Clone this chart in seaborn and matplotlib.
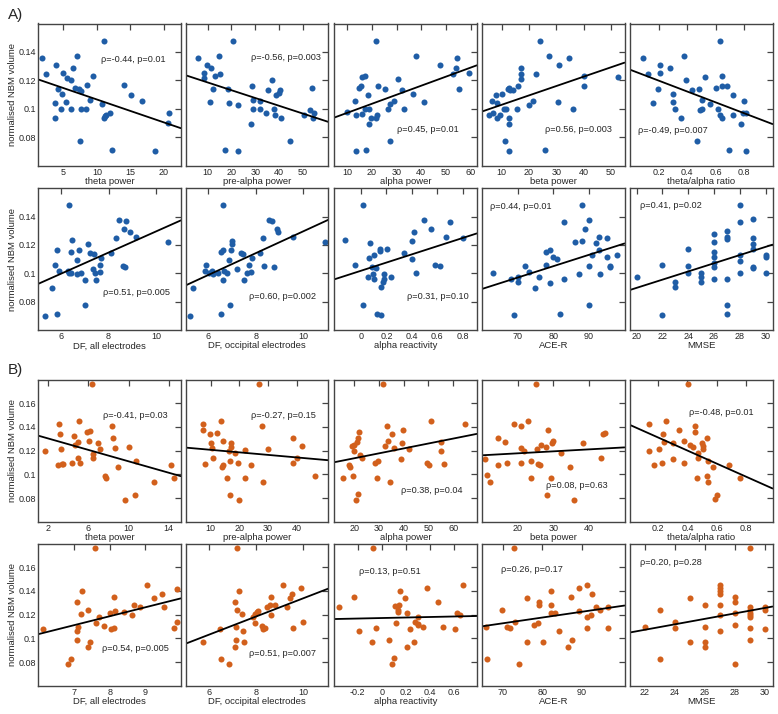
import matplotlib
matplotlib.use("Agg")
import matplotlib.pyplot as plt
import matplotlib.ticker as mticker
import seaborn as sns

# ---- data: (x, normalised NBM volume) per panel ----
# Group A (blue)
a_theta_x = [1.75, 2.35, 3.85, 4.15, 3.75, 3.75, 4.7, 4.85, 4.9, 5.5, 6.4, 6.2, 5.4, 6.1, 7.0, 6.8, 7.3, 7.65, 7.7, 7.5,
             8.4, 8.5, 9.0, 9.5, 10.8, 11.1, 11.0, 11.15, 11.4, 11.9, 12.25, 14.1, 15.15, 16.75, 18.65, 20.65, 20.8]
a_theta_y = [0.136, 0.1248, 0.1311, 0.114, 0.1044, 0.0936, 0.1001, 0.1107, 0.1255, 0.1219, 0.1287, 0.1205, 0.1048,
             0.0999, 0.1374, 0.1147, 0.1137, 0.1128, 0.0997, 0.0772, 0.0997, 0.1166, 0.106, 0.1231, 0.1032, 0.1475,
             0.0936, 0.0947, 0.0959, 0.0973, 0.071, 0.1166, 0.1097, 0.1055, 0.0704, 0.0898, 0.0973]

a_prealpha_x = [6.1, 9.6, 11.4, 8.5, 8.5, 13.1, 15.1, 14.9, 20.5, 12.4, 11.1, 18.7, 18.8, 17.1, 22.7, 22.6, 28.2, 28.8,
                28.9, 28.9, 31.8, 32.1, 34.5, 35.2, 37.1, 37.8, 38.4, 38.9, 39.8, 40.5, 40.8, 44.7, 50.4, 52.9, 53.9,
                54.1, 54.8]
a_prealpha_y = [0.136, 0.1311, 0.1287, 0.1255, 0.1219, 0.1229, 0.1248, 0.1374, 0.1475, 0.1137, 0.1048, 0.1137, 0.1044,
                0.071, 0.0704, 0.1029, 0.0896, 0.1163, 0.1065, 0.0997, 0.0997, 0.1055, 0.0971, 0.113, 0.1205, 0.1001,
                0.0957, 0.1097, 0.1114, 0.1135, 0.0936, 0.0774, 0.0955, 0.0994, 0.1149, 0.0936, 0.0973]

a_alpha_x = [10.0, 13.3, 13.5, 13.7, 14.7, 15.8, 16.0, 17.1, 16.0, 17.1, 17.8, 18.6, 19.1, 19.0, 19.9, 21.8, 22.1, 21.8,
             22.5, 25.4, 26.5, 27.5, 27.5, 28.8, 30.7, 32.4, 33.2, 36.5, 38.0, 40.9, 47.6, 52.9, 54.1, 54.5, 55.4, 59.2]
a_alpha_y = [0.0976, 0.1055, 0.0704, 0.0955, 0.1149, 0.1163, 0.1222, 0.1229, 0.0966, 0.0997, 0.071, 0.1097, 0.1001,
             0.0896, 0.0938, 0.0938, 0.0959, 0.1475, 0.1163, 0.1137, 0.0997, 0.1032, 0.0774, 0.1055, 0.1208, 0.113,
             0.1001, 0.1107, 0.1374, 0.1048, 0.1311, 0.1248, 0.1287, 0.136, 0.1137, 0.1255]

a_beta_x = [5.3, 6.4, 6.9, 7.9, 8.4, 8.4, 9.4, 10.2, 11.0, 11.6, 11.3, 12.2, 12.7, 13.1, 12.8, 12.8, 12.6, 14.3, 15.5,
            15.9, 17.2, 17.2, 17.2, 19.9, 21.6, 22.6, 23.9, 25.7, 27.5, 30.5, 30.9, 34.6, 36.1, 40.0, 40.0, 52.5]
a_beta_y = [0.0957, 0.1053, 0.0973, 0.1095, 0.0938, 0.1044, 0.0955, 0.1105, 0.0997, 0.0997, 0.0776, 0.1137, 0.1149,
            0.113, 0.0938, 0.0896, 0.0704, 0.113, 0.1001, 0.1163, 0.1208, 0.1248, 0.1287, 0.1029, 0.1055, 0.1248,
            0.1475, 0.071, 0.1374, 0.1048, 0.1311, 0.136, 0.0997, 0.1231, 0.1163, 0.1222]

a_ratio_x = [0.091, 0.123, 0.16, 0.195, 0.212, 0.212, 0.282, 0.301, 0.301, 0.316, 0.358, 0.377, 0.395, 0.437, 0.47,
             0.484, 0.49, 0.505, 0.507, 0.528, 0.563, 0.6, 0.616, 0.63, 0.644, 0.63, 0.645, 0.649, 0.679, 0.693,
             0.726, 0.721, 0.777, 0.8, 0.793, 0.816, 0.816]
a_ratio_y = [0.136, 0.1248, 0.1044, 0.1137, 0.1311, 0.1255, 0.1287, 0.1107, 0.1048, 0.1001, 0.0936, 0.1374, 0.1205,
             0.113, 0.0774, 0.1137, 0.0994, 0.0997, 0.106, 0.1222, 0.1032, 0.1149, 0.0997, 0.0959, 0.0938, 0.1475,
             0.1163, 0.1231, 0.1163, 0.071, 0.1095, 0.0955, 0.0896, 0.1055, 0.0973, 0.0973, 0.0704]

a_dfall_x = [5.32, 5.63, 5.75, 5.83, 5.82, 5.93, 6.34, 6.27, 6.34, 6.42, 6.45, 6.42, 6.66, 6.69, 6.77, 6.83, 7.01, 7.01,
             7.13, 7.23, 7.37, 7.34, 7.44, 7.48, 7.62, 7.65, 7.70, 8.11, 8.31, 8.44, 8.66, 8.75, 8.61, 8.69, 8.92,
             9.14, 10.5]
a_dfall_y = [0.0703, 0.0899, 0.1056, 0.1167, 0.0713, 0.1015, 0.1478, 0.1016, 0.10, 0.1153, 0.1235, 0.10, 0.0998,
             0.1097, 0.1167, 0.10, 0.0777, 0.0954, 0.1209, 0.1144, 0.1136, 0.1033, 0.10, 0.0954, 0.1061, 0.1007,
             0.1108, 0.1144, 0.1249, 0.1379, 0.1313, 0.1367, 0.1049, 0.1047, 0.1292, 0.1254, 0.1224]

a_dfocc_x = [5.23, 5.34, 5.89, 5.85, 6.04, 6.14, 6.21, 6.42, 6.52, 6.63, 6.60, 6.52, 6.63, 6.66, 6.81, 6.88, 6.95, 7.01,
             7.01, 6.91, 7.19, 7.36, 7.47, 7.52, 7.64, 7.73, 7.78, 7.85, 8.17, 8.32, 8.33, 8.56, 8.67, 8.76, 8.91,
             8.92, 9.58, 10.93]
a_dfocc_y = [0.0703, 0.0899, 0.1056, 0.1016, 0.1005, 0.1016, 0.0998, 0.10, 0.1153, 0.1478, 0.1167, 0.0713, 0.0954,
             0.1016, 0.10, 0.1097, 0.1167, 0.1231, 0.1207, 0.0777, 0.1033, 0.1144, 0.1136, 0.0954, 0.10, 0.1061,
             0.1007, 0.1108, 0.1144, 0.1249, 0.1049, 0.1379, 0.1367, 0.1047, 0.1313, 0.1292, 0.1254, 0.1224]

a_react_x = [-0.128, -0.05, 0.013, 0.013, 0.055, 0.073, 0.063, 0.086, 0.105, 0.118, 0.094, 0.105, 0.125, 0.146, 0.149,
             0.157, 0.157, 0.173, 0.178, 0.178, 0.204, 0.235, 0.34, 0.397, 0.397, 0.418, 0.431, 0.492, 0.552, 0.578,
             0.622, 0.664, 0.703, 0.805]
a_react_y = [0.1235, 0.1056, 0.1478, 0.0776, 0.0976, 0.1212, 0.1111, 0.1047, 0.1132, 0.1035, 0.0993, 0.0962, 0.0713,
             0.116, 0.1169, 0.0706, 0.0901, 0.0941, 0.0995, 0.0958, 0.1169, 0.0976, 0.1141, 0.1101, 0.1226, 0.1292,
             0.1002, 0.1379, 0.1311, 0.1059, 0.1052, 0.1254, 0.1365, 0.1252]

a_ace_x = [63.1, 68.1, 69.1, 70.1, 70.1, 72.2, 73.2, 75.0, 76.1, 77.9, 78.1, 79.0, 79.0, 80.0, 81.1, 82.0, 83.1, 83.1,
           86.1, 87.2, 88.0, 88.0, 89.0, 90.0, 90.0, 90.0, 91.0, 91.9, 92.9, 92.9, 93.0, 95.0, 95.0, 95.9, 96.0, 98.0]
a_ace_y = [0.10, 0.0958, 0.0706, 0.0976, 0.0939, 0.1054, 0.1007, 0.0899, 0.0976, 0.1059, 0.1153, 0.1165, 0.0936,
           0.1113, 0.1101, 0.0713, 0.0958, 0.1365, 0.1224, 0.0995, 0.1231, 0.1478, 0.1313, 0.1376, 0.1052, 0.0776,
           0.1129, 0.1212, 0.1254, 0.1165, 0.0995, 0.1247, 0.1118, 0.1052, 0.1042, 0.1129]

a_mmse_x = [20, 22, 22, 23, 23, 24, 24, 24, 25, 25, 25, 26, 26, 26, 26, 26, 26, 26, 27, 27, 27, 27, 27, 27,
            28, 28, 28, 28, 28, 29, 29, 29, 29, 29, 29, 30, 30, 30]
a_mmse_y = [0.0976, 0.1059, 0.0706, 0.0941, 0.0901, 0.1169, 0.1054, 0.10, 0.1005, 0.0972, 0.0939,
            0.1279, 0.1224, 0.1153, 0.1113, 0.1071, 0.1047, 0.0958, 0.1297, 0.1259, 0.124, 0.0958, 0.0776, 0.0713,
            0.1478, 0.1365, 0.1129, 0.1087, 0.10, 0.1381, 0.1252, 0.1207, 0.1169, 0.1047, 0.1036,
            0.1129, 0.1115, 0.10]

# Group B (orange)
b_theta_x = [1.67, 3.07, 3.17, 3.0, 3.27, 3.33, 3.43, 4.33, 4.57, 4.67, 5.0, 5.1, 5.0, 5.17, 5.9, 6.17, 6.1, 6.33, 6.5,
             6.43, 6.9, 7.1, 7.6, 7.77, 8.33, 8.43, 8.67, 8.93, 9.67, 10.07, 10.67, 10.77, 12.5, 14.23, 14.5]
b_theta_y = [0.1197, 0.1428, 0.1341, 0.1082, 0.1214, 0.1084, 0.1087, 0.1096, 0.1321, 0.1251, 0.1273, 0.1448, 0.1138,
             0.1096, 0.1358, 0.1369, 0.1285, 0.1766, 0.1175, 0.1138, 0.1262, 0.1211, 0.0989, 0.0969, 0.1406, 0.1307,
             0.1223, 0.1062, 0.0786, 0.1234, 0.0828, 0.111, 0.0932, 0.1082, 0.0969]

b_prealpha_x = [7.2, 7.44, 8.0, 9.77, 10.0, 10.58, 10.93, 12.1, 13.72, 14.19, 13.84, 14.42, 15.58, 16.5, 16.98, 17.1,
                16.74, 16.74, 18.5, 19.42, 19.77, 21.98, 21.98, 24.07, 26.74, 28.02, 28.37, 29.88, 38.84, 38.84,
                40.0, 41.74, 46.4]
b_prealpha_y = [0.1428, 0.1375, 0.1087, 0.1341, 0.1265, 0.1223, 0.1138, 0.1349, 0.1448, 0.1279, 0.1062, 0.1082, 0.0969,
                0.1194, 0.1265, 0.1228, 0.111, 0.0828, 0.1177, 0.1096, 0.0786, 0.1208, 0.0969, 0.1082, 0.1766, 0.1406,
                0.0932, 0.1211, 0.1307, 0.1096, 0.1138, 0.1242, 0.0989]

b_alpha_x = [15.5, 18.0, 18.3, 18.9, 19.3, 19.9, 20.0, 21.0, 21.4, 21.8, 22.3, 21.6, 20.6, 23.0, 28.4, 29.1, 29.7,
             31.7, 32.4, 33.1, 33.8, 34.5, 35.4, 36.1, 38.9, 39.4, 39.6, 42.1, 49.3, 50.4, 51.1, 55.1, 55.1, 56.3, 64.9]
b_alpha_y = [0.0969, 0.1082, 0.1062, 0.1237, 0.0983, 0.1251, 0.1194, 0.1273, 0.1307, 0.1358, 0.1166, 0.0834, 0.0786,
             0.1138, 0.1096, 0.0969, 0.111, 0.1766, 0.1237, 0.1406, 0.1285, 0.0932, 0.1341, 0.1223, 0.1132, 0.1265,
             0.1375, 0.1214, 0.1096, 0.1082, 0.1448, 0.1273, 0.1194, 0.1087, 0.1428]

b_beta_x = [10.9, 11.5, 12.1, 14.4, 14.6, 16.4, 17.1, 19.0, 20.8, 20.8, 20.9, 21.8, 23.0, 23.6, 23.6, 25.1, 25.3, 25.6,
            26.1, 26.5, 27.9, 28.4, 28.1, 29.3, 29.7, 30.0, 32.1, 34.7, 35.8, 38.4, 43.4, 43.8, 44.3]
b_beta_y = [0.1132, 0.0992, 0.0932, 0.1307, 0.1082, 0.1273, 0.1096, 0.1428, 0.1406, 0.1096, 0.1223, 0.1194, 0.1448,
            0.111, 0.0969, 0.1766, 0.1214, 0.1087, 0.1082, 0.1245, 0.1234, 0.1375, 0.0828, 0.0969, 0.1265, 0.1279,
            0.118, 0.1062, 0.0786, 0.1265, 0.1138, 0.1341, 0.1349]

b_ratio_x = [0.138, 0.138, 0.170, 0.207, 0.227, 0.234, 0.239, 0.250, 0.298, 0.298, 0.344, 0.376, 0.376, 0.401, 0.418,
             0.440, 0.452, 0.452, 0.468, 0.475, 0.475, 0.502, 0.509, 0.505, 0.537, 0.539, 0.537, 0.543, 0.578, 0.589,
             0.601, 0.685, 0.761]
b_ratio_y = [0.1428, 0.1194, 0.1082, 0.1214, 0.1096, 0.1341, 0.1273, 0.1448, 0.1265, 0.1132, 0.1375, 0.1282, 0.1096,
             0.1766, 0.1245, 0.1228, 0.1358, 0.1406, 0.0969, 0.118, 0.1138, 0.1265, 0.1237, 0.1214, 0.1307, 0.111,
             0.0989, 0.0932, 0.1062, 0.0794, 0.0828, 0.1082, 0.0969]

b_dfall_x = [6.14, 6.84, 6.92, 7.08, 7.12, 7.09, 7.09, 7.19, 7.23, 7.40, 7.38, 7.45, 7.59, 7.62, 7.71, 7.85, 8.0, 8.04,
             8.13, 8.11, 8.15, 8.39, 8.67, 8.61, 8.86, 9.05, 9.23, 9.45, 9.52, 9.80, 9.89, 9.89]
b_dfall_y = [0.1079, 0.0783, 0.0828, 0.1307, 0.1099, 0.1059, 0.0986, 0.1208, 0.14, 0.1242, 0.093, 0.0969, 0.1763,
             0.113, 0.1183, 0.1107, 0.1214, 0.1082, 0.109, 0.1352, 0.1234, 0.1222, 0.1279, 0.1194, 0.1265, 0.1448,
             0.1341, 0.1372, 0.1265, 0.1084, 0.1138, 0.142]

b_dfocc_x = [5.77, 6.48, 6.52, 6.87, 7.11, 7.14, 7.14, 7.11, 7.18, 7.21, 7.28, 7.42, 7.44, 7.49, 7.89, 7.96, 7.96, 8.03,
             8.10, 8.24, 8.31, 8.38, 8.45, 8.59, 8.63, 8.66, 8.82, 9.15, 9.32, 9.44, 9.54, 9.58, 9.93, 10.0]
b_dfocc_y = [0.0969, 0.1076, 0.0828, 0.0783, 0.1307, 0.1099, 0.0986, 0.093, 0.1763, 0.1242, 0.14, 0.1208, 0.1065,
             0.0969, 0.1183, 0.113, 0.1208, 0.1222, 0.1234, 0.1107, 0.1082, 0.109, 0.1265, 0.1279, 0.1194, 0.1352,
             0.1279, 0.1448, 0.1265, 0.1341, 0.1372, 0.1084, 0.1425, 0.1138]

b_react_x = [-0.353, -0.229, -0.188, -0.074, -0.08, -0.05, 0.055, 0.097, 0.086, 0.105, 0.116, 0.138, 0.132, 0.135,
             0.154, 0.188, 0.204, 0.212, 0.234, 0.262, 0.273, 0.298, 0.295, 0.303, 0.339, 0.37, 0.463, 0.505, 0.604,
             0.626, 0.643, 0.673]
b_react_y = [0.1265, 0.1352, 0.1062, 0.1766, 0.0966, 0.1085, 0.0989, 0.0831, 0.0786, 0.1276, 0.1132, 0.1285, 0.1225,
             0.1242, 0.1403, 0.1341, 0.093, 0.1211, 0.1079, 0.0969, 0.1141, 0.1183, 0.1118, 0.111, 0.1099, 0.1425,
             0.1307, 0.1096, 0.1082, 0.1214, 0.12, 0.1448]

b_ace_x = [65.8, 66.0, 69.9, 71.0, 71.9, 73.1, 74.1, 76.1, 76.1, 78.0, 79.0, 79.1, 79.1, 80.1, 82.2, 82.2, 82.2, 83.2,
           84.3, 87.3, 87.5, 86.4, 89.4, 89.4, 91.3, 91.4, 91.4, 92.5, 92.3, 93.6, 94.6, 96.7, 96.7, 73.0]
b_ace_y = [0.1099, 0.0828, 0.1242, 0.1099, 0.1084, 0.1138, 0.0783, 0.1341, 0.0969, 0.111, 0.1132, 0.131, 0.1279,
           0.0969, 0.1403, 0.1284, 0.1214, 0.1214, 0.1062, 0.1352, 0.0986, 0.093, 0.1228, 0.1425, 0.1183, 0.1084,
           0.1448, 0.1372, 0.1194, 0.1265, 0.1237, 0.1265, 0.1084, 0.1763]

b_mmse_x = [22, 23, 23, 24, 24, 25, 25, 26, 26, 26, 26, 27, 27, 27, 27, 27, 27, 27, 28, 28, 28, 28, 28,
            29, 29, 29, 29, 29, 29, 29, 29, 30, 30, 30]
b_mmse_y = [0.1099, 0.1242, 0.0828, 0.1138, 0.1084, 0.1341, 0.0969, 0.1279, 0.1099, 0.0969, 0.093,
            0.1448, 0.1425, 0.1397, 0.1372, 0.1279, 0.1194, 0.1062, 0.1352, 0.131, 0.1214, 0.111, 0.0783,
            0.1763, 0.1265, 0.1242, 0.1214, 0.1194, 0.1177, 0.1084, 0.0986, 0.1265, 0.1237, 0.1082]

# axis labels and statistics printed in each panel
x_labels = ["theta power", "pre-alpha power", "alpha power", "beta power", "theta/alpha ratio",
            "DF, all electrodes", "DF, occipital electrodes", "alpha reactivity", "ACE-R", "MMSE"]
a_stats = ["ρ=-0.44, p=0.01", "ρ=-0.56, p=0.003", "ρ=0.45, p=0.01", "ρ=0.56, p=0.003", "ρ=-0.49, p=0.007",
           "ρ=0.51, p=0.005", "ρ=0.60, p=0.002", "ρ=0.31, p=0.10", "ρ=0.44, p=0.01", "ρ=0.41, p=0.02"]
b_stats = ["ρ=-0.41, p=0.03", "ρ=-0.27, p=0.15", "ρ=0.38, p=0.04", "ρ=0.08, p=0.63", "ρ=-0.48, p=0.01",
           "ρ=0.54, p=0.005", "ρ=0.51, p=0.007", "ρ=0.13, p=0.51", "ρ=0.26, p=0.17", "ρ=0.20, p=0.28"]

a_series = [(a_theta_x, a_theta_y), (a_prealpha_x, a_prealpha_y), (a_alpha_x, a_alpha_y), (a_beta_x, a_beta_y),
            (a_ratio_x, a_ratio_y), (a_dfall_x, a_dfall_y), (a_dfocc_x, a_dfocc_y), (a_react_x, a_react_y),
            (a_ace_x, a_ace_y), (a_mmse_x, a_mmse_y)]
b_series = [(b_theta_x, b_theta_y), (b_prealpha_x, b_prealpha_y), (b_alpha_x, b_alpha_y), (b_beta_x, b_beta_y),
            (b_ratio_x, b_ratio_y), (b_dfall_x, b_dfall_y), (b_dfocc_x, b_dfocc_y), (b_react_x, b_react_y),
            (b_ace_x, b_ace_y), (b_mmse_x, b_mmse_y)]

# ---- per-panel axis set-up: x range, x ticks, position of the stats text ----
a_axes = [((1.25, 22.55), [5, 10, 15, 20], (0.67, 0.75)),
          ((0.8, 60.6), [10, 20, 30, 40, 50], (0.70, 0.76)),
          ((4.9, 62.4), [10, 20, 30, 40, 50, 60], (0.66, 0.255)),
          ((2.8, 55.0), [10, 20, 30, 40, 50], (0.68, 0.255)),
          ((0.0, 1.0), [0.2, 0.4, 0.6, 0.8], (0.30, 0.245)),
          ((5.04, 11.04), [6, 8, 10], (0.69, 0.268)),
          ((5.05, 11.05), [6, 8, 10], (0.68, 0.237)),
          ((-0.21, 0.91), [0, 0.2, 0.4, 0.6, 0.8], (0.73, 0.235)),
          ((60.0, 100.0), [70, 80, 90], (0.27, 0.87)),
          ((19.48, 30.54), [20, 22, 24, 26, 28, 30], (0.285, 0.878))]
b_axes = [((1.0, 15.2), [2, 6, 10, 14], (0.68, 0.748)),
          ((1.28, 51.0), [10, 20, 30, 40], (0.685, 0.748)),
          ((11.9, 69.6), [20, 30, 40, 50, 60], (0.685, 0.216)),
          ((10.0, 49.9), [20, 30, 40], (0.665, 0.252)),
          ((0.005, 0.985), [0.2, 0.4, 0.6, 0.8], (0.643, 0.77)),
          ((6.0, 9.99), [7, 8, 9], (0.685, 0.264)),
          ((5.03, 11.06), [6, 8, 10], (0.68, 0.228)),
          ((-0.394, 0.786), [-0.2, 0, 0.2, 0.4, 0.6], (0.39, 0.805)),
          ((64.8, 100.8), [70, 80, 90], (0.35, 0.816)),
          ((21.0, 30.51), [22, 24, 26, 28, 30], (0.284, 0.864))]

BLUE = "#1f5da6"
ORANGE = "#d2601c"
SPINE = "#444444"

sns.set_theme(style="white")
plt.rcParams["font.family"] = ["Liberation Sans", "DejaVu Sans"]
plt.rcParams["axes.unicode_minus"] = False

W, H = 778, 714
fig = plt.figure(figsize=(W / 100, H / 100), dpi=100)

col_left = [38.3, 185.7, 334.3, 482.0, 630.0]   # px
row_bottom = [165.7, 330.3, 521.7, 685.7]        # px
PW, PH = 142.5, 142.2


def draw_row(series, axes_cfg, stats, color, ylim, yticks, row_idx):
    for col in range(5):
        i = col + (5 if row_idx % 2 else 0)
        x, y = series[i]
        xlim, xticks, (tx, ty) = axes_cfg[i]
        ax = fig.add_axes([col_left[col] / W, 1 - row_bottom[row_idx] / H, PW / W, PH / H])
        ax.set_xlim(xlim)
        ax.set_ylim(ylim)
        # scatter + least-squares line spanning the whole x range
        sns.regplot(x=x, y=y, ax=ax, ci=None, truncate=False,
                    scatter_kws=dict(s=19, color=color, linewidths=0, alpha=1),
                    line_kws=dict(color="black", lw=1.3))
        ax.set_xlim(xlim)
        ax.set_ylim(ylim)
        ax.set_xticks(xticks)
        ax.set_yticks(yticks)
        ax.xaxis.set_major_formatter(mticker.FormatStrFormatter("%g"))
        ax.yaxis.set_major_formatter(mticker.FormatStrFormatter("%g"))
        ax.tick_params(direction="in", top=True, right=True, length=4, width=0.9,
                       color=SPINE, labelsize=6.5, pad=1.5)
        if col != 0:
            ax.tick_params(labelleft=False)
            ax.set_ylabel("")
        else:
            ax.set_ylabel("normalised NBM volume", fontsize=6.8, labelpad=1)
        ax.set_xlabel(x_labels[i], fontsize=6.8, labelpad=0)
        for s in ax.spines.values():
            s.set_color(SPINE)
            s.set_linewidth(1.0)
        ax.text(tx, ty, stats[i], transform=ax.transAxes, ha="center", va="center", fontsize=6.6)


for r in (0, 1):
    draw_row(a_series, a_axes, a_stats, BLUE, (0.06, 0.16), [0.08, 0.10, 0.12, 0.14], r)
for r in (2, 3):
    draw_row(b_series, b_axes, b_stats, ORANGE, (0.06, 0.18), [0.08, 0.10, 0.12, 0.14, 0.16], r)

fig.text(8 / W, 1 - 15 / H, "A)", fontsize=11, ha="left", va="center")
fig.text(8 / W, 1 - 370 / H, "B)", fontsize=11, ha="left", va="center")

fig.savefig("out.png", dpi=100)
